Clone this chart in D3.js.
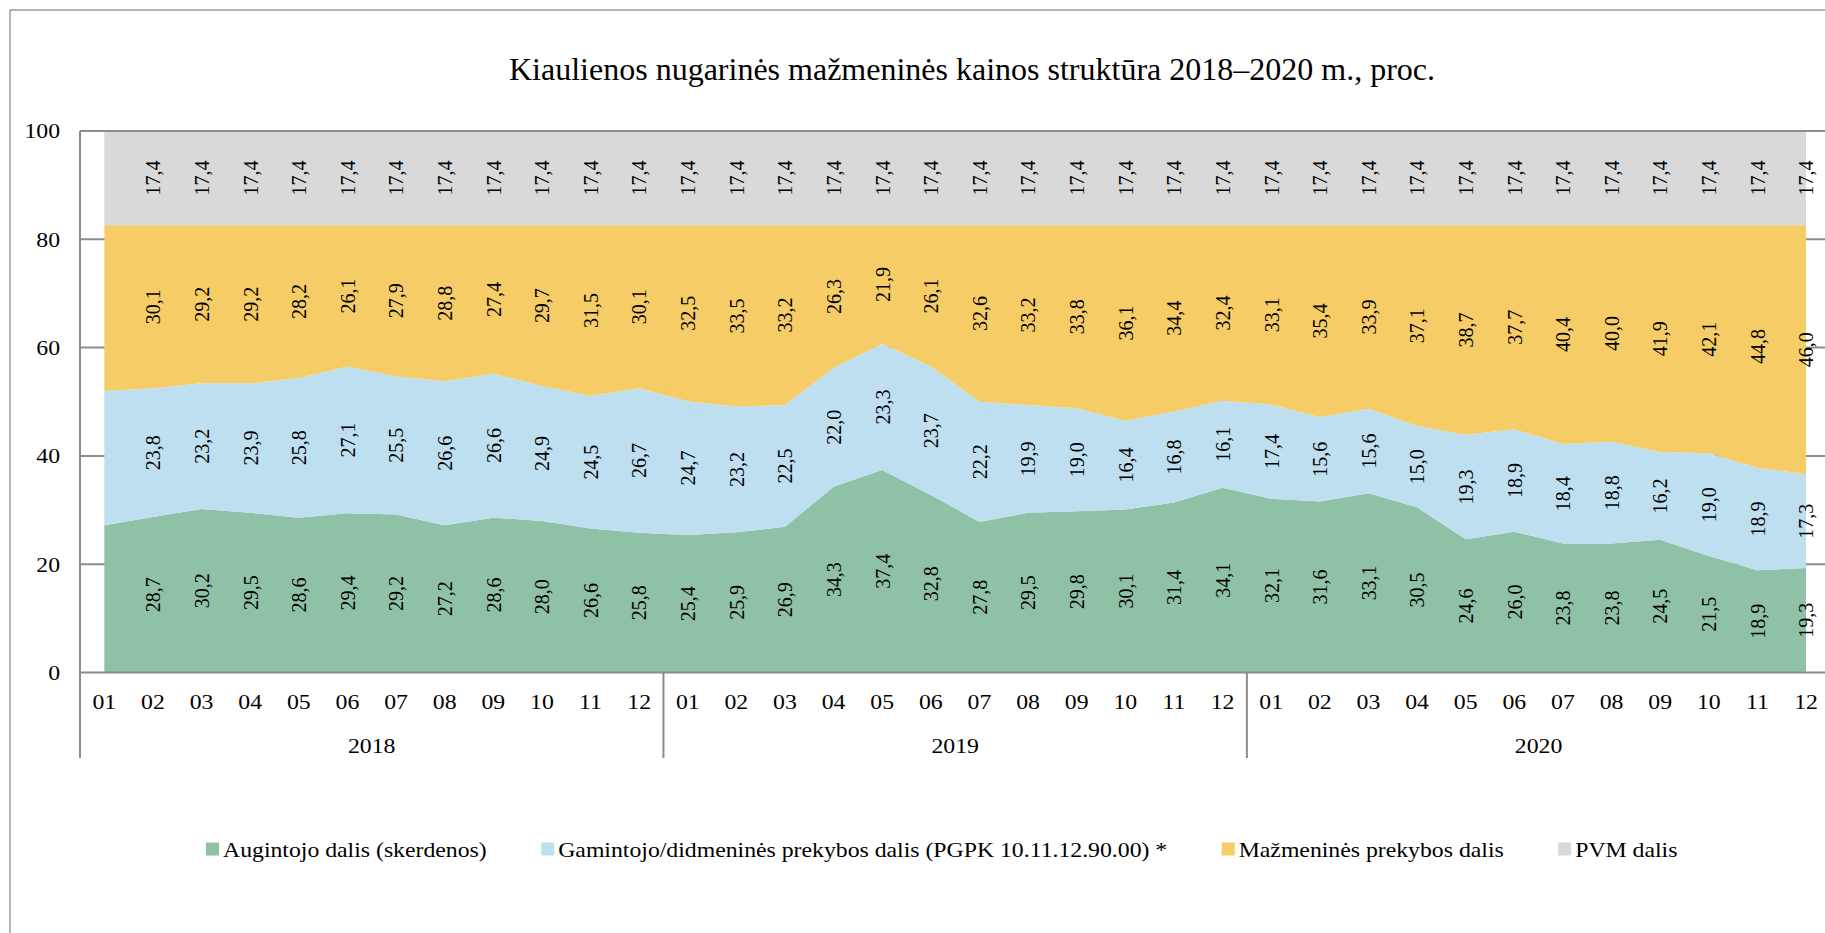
<!DOCTYPE html>
<html>
<head>
<meta charset="utf-8">
<script src="https://cdn.jsdelivr.net/npm/d3@7"></script>
<style>
  html, body { margin: 0; padding: 0; background: #fff; overflow: hidden; }
  svg { display: block; font-family: "Liberation Serif", "Times New Roman", serif; }
</style>
</head>
<body>
<svg id="chart" width="1825" height="933"></svg>
<script>
// ---------- DATA ----------
const title = "Kiaulienos nugarinės mažmeninės kainos struktūra 2018–2020 m., proc.";
const years = ["2018", "2019", "2020"];
const months = ["01","02","03","04","05","06","07","08","09","10","11","12"];
const yTicks = [0, 20, 40, 60, 80, 100];

const seriesNames = [
  "Augintojo dalis (skerdenos)",
  "Gamintojo/didmeninės prekybos dalis (PGPK 10.11.12.90.00) *",
  "Mažmeninės prekybos dalis",
  "PVM dalis"
];

const augintojo = [
  27.2, 28.7, 30.2, 29.5, 28.6, 29.4, 29.2, 27.2, 28.6, 28.0, 26.6, 25.8,
  25.4, 25.9, 26.9, 34.3, 37.4, 32.8, 27.8, 29.5, 29.8, 30.1, 31.4, 34.1,
  32.1, 31.6, 33.1, 30.5, 24.6, 26.0, 23.8, 23.8, 24.5, 21.5, 18.9, 19.3
];
const gamintojo = [
  24.8, 23.8, 23.2, 23.9, 25.8, 27.1, 25.5, 26.6, 26.6, 24.9, 24.5, 26.7,
  24.7, 23.2, 22.5, 22.0, 23.3, 23.7, 22.2, 19.9, 19.0, 16.4, 16.8, 16.1,
  17.4, 15.6, 15.6, 15.0, 19.3, 18.9, 18.4, 18.8, 16.2, 19.0, 18.9, 17.3
];
const mazmenines = [
  30.6, 30.1, 29.2, 29.2, 28.2, 26.1, 27.9, 28.8, 27.4, 29.7, 31.5, 30.1,
  32.5, 33.5, 33.2, 26.3, 21.9, 26.1, 32.6, 33.2, 33.8, 36.1, 34.4, 32.4,
  33.1, 35.4, 33.9, 37.1, 38.7, 37.7, 40.4, 40.0, 41.9, 42.1, 44.8, 46.0
];
const pvm = [
  17.4, 17.4, 17.4, 17.4, 17.4, 17.4, 17.4, 17.4, 17.4, 17.4, 17.4, 17.4,
  17.4, 17.4, 17.4, 17.4, 17.4, 17.4, 17.4, 17.4, 17.4, 17.4, 17.4, 17.4,
  17.4, 17.4, 17.4, 17.4, 17.4, 17.4, 17.4, 17.4, 17.4, 17.4, 17.4, 17.4
];
// the first month carries no data labels in the original
const unlabeledIndex = [0];

const colors = ["#8fc1a6", "#bddfef", "#f5cc66", "#d9d9d9"];

// ---------- BUILD ----------
const categories = years.flatMap(y => months.map(m => y + "-" + m));
const keys = ["a", "g", "m", "p"];
const table = categories.map((c, i) => ({
  cat: c, a: augintojo[i], g: gamintojo[i], m: mazmenines[i], p: pvm[i]
}));

const svg = d3.select("#chart");
const axisColor = "#8c8c8c";
const SX = 1.08; // slight horizontal widening of chart text, as in the original

// outer chart border (extends beyond the visible frame like the original)
svg.append("rect")
  .attr("x", 10).attr("y", 10)
  .attr("width", 1900).attr("height", 1000)
  .attr("fill", "none").attr("stroke", axisColor).attr("stroke-width", 1.3);

const left = 80, bw = 48.62;
const x = d3.scaleBand().domain(categories).range([left, left + bw * categories.length]);
const y = d3.scaleLinear().domain([0, 100]).range([672.5, 131]);
const cx = c => x(c) + x.bandwidth() / 2;

// title
svg.append("text")
  .attr("x", 972).attr("y", 80)
  .attr("text-anchor", "middle")
  .attr("font-size", 32)
  .attr("fill", "#000")
  .text(title);

// gridlines (behind areas)
svg.append("g").selectAll("line")
  .data(yTicks.filter(t => t > 0 && t < 100))
  .join("line")
  .attr("x1", left).attr("x2", 1830)
  .attr("y1", d => y(d)).attr("y2", d => y(d))
  .attr("stroke", axisColor).attr("stroke-width", 2);

// stacked areas
const stack = d3.stack().keys(keys);
const stacked = stack(table);
const area = d3.area()
  .x(d => cx(d.data.cat))
  .y0(d => y(d[0]))
  .y1(d => y(d[1]))
  .curve(d3.curveLinear);

svg.append("g").selectAll("path")
  .data(stacked)
  .join("path")
  .attr("d", area)
  .attr("fill", (d, i) => colors[i]);

// top gridline at 100
svg.append("line")
  .attr("x1", left).attr("x2", 1830)
  .attr("y1", y(100)).attr("y2", y(100))
  .attr("stroke", axisColor).attr("stroke-width", 2);

// axes lines
svg.append("line")
  .attr("x1", left).attr("x2", left)
  .attr("y1", y(100)).attr("y2", 758)
  .attr("stroke", axisColor).attr("stroke-width", 2);
svg.append("line")
  .attr("x1", left).attr("x2", 1830)
  .attr("y1", y(0)).attr("y2", y(0))
  .attr("stroke", axisColor).attr("stroke-width", 2);

// y tick labels
svg.append("g").selectAll("text")
  .data(yTicks)
  .join("text")
  .attr("transform", d => `translate(60,${y(d)}) scale(${SX},1)`)
  .attr("dy", "0.34em")
  .attr("text-anchor", "end")
  .attr("font-size", 22)
  .text(d => d);

// month labels
svg.append("g").selectAll("text")
  .data(categories)
  .join("text")
  .attr("transform", d => `translate(${cx(d)},709) scale(${SX},1)`)
  .attr("text-anchor", "middle")
  .attr("font-size", 22)
  .text(d => d.split("-")[1]);

// year separators & labels
const yearStart = yr => x(yr + "-01");
svg.append("g").selectAll("line")
  .data(years.slice(1))
  .join("line")
  .attr("x1", d => yearStart(d)).attr("x2", d => yearStart(d))
  .attr("y1", y(0)).attr("y2", 758)
  .attr("stroke", axisColor).attr("stroke-width", 2);

svg.append("g").selectAll("text")
  .data(years)
  .join("text")
  .attr("transform", d => `translate(${yearStart(d) + x.bandwidth() * months.length / 2},752.5) scale(${SX},1)`)
  .attr("text-anchor", "middle")
  .attr("font-size", 22)
  .text(d => d);

// data labels (rotated, centred in each band segment)
const fmt = v => v.toFixed(1).replace(".", ",");
const labelG = svg.append("g");
stacked.forEach(layer => {
  labelG.selectAll(null)
    .data(layer.filter((d, i) => !unlabeledIndex.includes(i)))
    .join("text")
    .attr("transform", d => `translate(${cx(d.data.cat)},${y((d[0] + d[1]) / 2)}) scale(${SX},1) rotate(-90)`)
    .attr("text-anchor", "middle")
    .attr("dy", "0.34em")
    .attr("font-size", 20)
    .attr("fill", "#000")
    .text(d => fmt(d.data[layer.key]));
});

// legend
const legend = svg.append("g");
let lx = 206;
const ly = 849;
seriesNames.forEach((name, i) => {
  legend.append("rect")
    .attr("x", lx).attr("y", ly - 6.5)
    .attr("width", 13).attr("height", 13)
    .attr("fill", colors[i]);
  const t = legend.append("text")
    .attr("transform", `translate(${lx + 17},${ly + 8}) scale(${SX},1)`)
    .attr("font-size", 22)
    .text(name);
  const w = t.node().getComputedTextLength() * SX;
  lx = lx + 17 + w + 54.5;
});
</script>
</body>
</html>
